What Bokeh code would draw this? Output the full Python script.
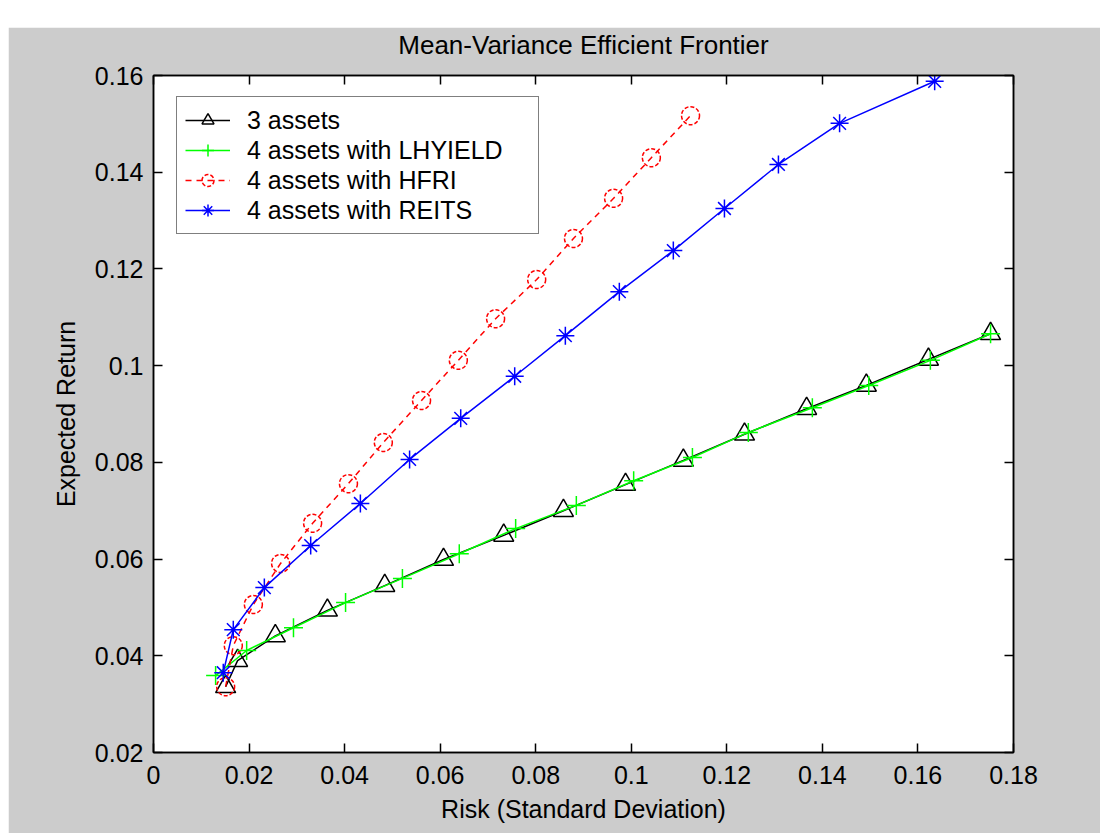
from bokeh.plotting import figure
from bokeh.models import LinearAxis, Range1d, Legend, LegendItem, FixedTicker, Spacer
from bokeh.layouts import column, row
from bokeh.embed import file_html
from bokeh.resources import INLINE

# ---- data ----
x_3assets = [0.0151, 0.0176, 0.0255, 0.0364, 0.0484, 0.0607, 0.0733, 0.0858, 0.0988, 0.1109, 0.1237, 0.1367, 0.1492, 0.1622, 0.1752]
y_3assets = [0.0336, 0.0390, 0.0441, 0.0494, 0.0545, 0.0599, 0.0649, 0.0700, 0.0754, 0.0804, 0.0858, 0.0911, 0.0959, 0.1013, 0.1066]

x_lhyield = [0.0130, 0.0195, 0.0293, 0.0402, 0.0521, 0.0640, 0.0758, 0.0885, 0.1005, 0.1128, 0.1245, 0.1379, 0.1497, 0.1626, 0.1752]
y_lhyield = [0.0359, 0.0411, 0.0458, 0.0510, 0.0560, 0.0611, 0.0663, 0.0711, 0.0762, 0.0810, 0.0862, 0.0913, 0.0959, 0.1011, 0.1066]

x_hfri = [0.0151, 0.0167, 0.0209, 0.0266, 0.0333, 0.0408, 0.0481, 0.0561, 0.0638, 0.0716, 0.0802, 0.0879, 0.0963, 0.1042, 0.1124]
y_hfri = [0.0336, 0.0421, 0.0506, 0.0591, 0.0674, 0.0756, 0.0841, 0.0928, 0.1011, 0.1097, 0.1178, 0.1263, 0.1346, 0.1430, 0.1517]

x_reits = [0.0146, 0.0167, 0.0232, 0.0329, 0.0433, 0.0536, 0.0643, 0.0756, 0.0862, 0.0975, 0.1088, 0.1195, 0.1308, 0.1436, 0.1635]
y_reits = [0.0365, 0.0454, 0.0541, 0.0628, 0.0715, 0.0806, 0.0891, 0.0978, 0.1062, 0.1153, 0.1238, 0.1325, 0.1416, 0.1501, 0.1588]

series_labels = ["3 assets", "4 assets with LHYIELD", "4 assets with HFRI", "4 assets with REITS"]

x_ticks = [0.0, 0.02, 0.04, 0.06, 0.08, 0.1, 0.12, 0.14, 0.16, 0.18]
x_tick_labels = ["0", "0.02", "0.04", "0.06", "0.08", "0.1", "0.12", "0.14", "0.16", "0.18"]
y_ticks = [0.02, 0.04, 0.06, 0.08, 0.1, 0.12, 0.14, 0.16]
y_tick_labels = ["0.02", "0.04", "0.06", "0.08", "0.1", "0.12", "0.14", "0.16"]

FONT = "Liberation Sans"
FS = "25px"

p = figure(width=1092, height=806, x_range=Range1d(0, 0.18), y_range=Range1d(0.02, 0.16),
           output_backend="svg", toolbar_location=None,
           min_border_left=145, min_border_right=87, min_border_top=48, min_border_bottom=81,
           title="Mean-Variance Efficient Frontier")
p.border_fill_color = "#cccccc"
p.background_fill_color = "white"
p.outline_line_color = "black"
p.outline_line_width = 1.5
p.grid.visible = False

p.title.align = "center"
p.title.text_font = FONT
p.title.text_font_size = "26px"
p.title.text_font_style = "normal"
p.title.text_color = "black"
p.title.standoff = 0

xa = p.below[0]
ya = p.left[0]
xa.ticker = FixedTicker(ticks=x_ticks)
ya.ticker = FixedTicker(ticks=y_ticks)
xa.major_label_overrides = dict(zip(x_ticks, x_tick_labels))
ya.major_label_overrides = dict(zip(y_ticks, y_tick_labels))
xa.axis_label = "Risk (Standard Deviation)"
ya.axis_label = "Expected Return"

right_axis = LinearAxis(ticker=FixedTicker(ticks=y_ticks))
top_axis = LinearAxis(ticker=FixedTicker(ticks=x_ticks))
p.add_layout(right_axis, "right")
p.add_layout(top_axis, "above")

for ax in [xa, ya, right_axis, top_axis]:
    ax.major_tick_in = 9
    ax.major_tick_out = 0
    ax.minor_tick_line_color = None
    ax.axis_line_color = "black"
    ax.axis_line_width = 1.5
    ax.major_tick_line_color = "black"
    ax.major_tick_line_width = 1.5
    ax.major_label_text_font = FONT
    ax.major_label_text_font_size = FS
    ax.major_label_text_color = "black"
    ax.axis_label_text_font = FONT
    ax.axis_label_text_font_size = FS
    ax.axis_label_text_font_style = "normal"
    ax.axis_label_text_color = "black"

for ax in [right_axis, top_axis]:
    ax.major_label_text_font_size = "0px"
    ax.major_label_standoff = 0
    ax.major_label_text_alpha = 0

# invisible spacer label on the top axis lifts the title
top_axis.axis_label = "."
top_axis.axis_label_text_font_size = "12px"
top_axis.axis_label_text_alpha = 0
top_axis.axis_label_standoff = 4

xa.major_label_standoff = 13
xa.axis_label_standoff = 8
ya.major_label_standoff = 10
ya.axis_label_standoff = 12

LW = 1.5
l1 = p.line(x_3assets, y_3assets, line_color="black", line_width=LW)
s1 = p.scatter(x_3assets, y_3assets, marker="triangle", size=20, fill_color=None,
               line_color="black", line_width=LW)
l2 = p.line(x_lhyield, y_lhyield, line_color="#00ff00", line_width=LW)
s2 = p.scatter(x_lhyield, y_lhyield, marker="cross", size=19, line_color="#00ff00", line_width=LW)
l3 = p.line(x_hfri, y_hfri, line_color="#ff0000", line_width=LW, line_dash="6 5")
s3 = p.scatter(x_hfri, y_hfri, marker="circle", size=18, fill_color=None,
               line_color="#ff0000", line_width=LW, line_dash="4 2")
l4 = p.line(x_reits, y_reits, line_color="#0000ff", line_width=LW)
s4 = p.scatter(x_reits, y_reits, marker="asterisk", size=18, line_color="#0000ff", line_width=LW)

legend = Legend(items=[
    LegendItem(label=series_labels[0], renderers=[l1, s1]),
    LegendItem(label=series_labels[1], renderers=[l2, s2]),
    LegendItem(label=series_labels[2], renderers=[l3, s3]),
    LegendItem(label=series_labels[3], renderers=[l4, s4]),
], location=(23, 518))
legend.border_line_color = "black"
legend.border_line_width = 1.5
legend.background_fill_color = "white"
legend.background_fill_alpha = 1.0
legend.label_text_font = FONT
legend.label_text_font_size = FS
legend.label_text_color = "black"
legend.glyph_width = 45
legend.glyph_height = 30
legend.label_height = 30
legend.label_width = 283
legend.label_standoff = 17
legend.padding = 8
legend.spacing = 0
legend.margin = 0
p.add_layout(legend)

layout = column(Spacer(width=1100, height=27),
                row(Spacer(width=8, height=806), p, spacing=0),
                spacing=0)
open("out.html", "w").write(file_html(layout, INLINE))
